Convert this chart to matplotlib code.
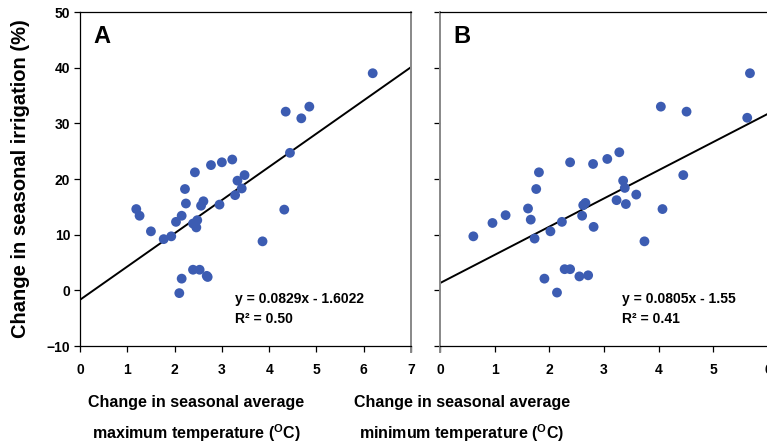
import matplotlib
matplotlib.use('Agg')
import matplotlib.pyplot as plt
import numpy as np

# Panel A: change in seasonal average maximum temperature vs irrigation change
tmax = [1.19, 1.26, 1.50, 1.77, 1.93, 2.03, 2.15, 2.22, 2.24, 2.43, 2.39, 2.48,
        2.46, 2.56, 2.61, 2.77, 3.00, 2.95, 3.22, 3.28, 3.33, 3.42, 3.48, 3.86,
        4.32, 4.35, 4.44, 4.68, 4.85, 6.19, 2.39, 2.53, 2.68, 2.70, 2.15, 2.10]
irr_a = [14.6, 13.4, 10.6, 9.2, 9.7, 12.3, 13.4, 18.2, 15.6, 21.2, 12.0, 12.6,
         11.3, 15.2, 16.0, 22.5, 23.0, 15.4, 23.5, 17.1, 19.7, 18.3, 20.7, 8.8,
         14.5, 32.1, 24.7, 30.9, 33.0, 39.0, 3.7, 3.7, 2.6, 2.4, 2.1, -0.5]

# Panel B: change in seasonal average minimum temperature
tmin = [0.61, 0.96, 1.20, 1.61, 1.66, 1.73, 1.76, 1.81, 1.91, 2.02, 2.14, 2.23,
        2.28, 2.38, 2.38, 2.55, 2.60, 2.62, 2.66, 2.71, 2.80, 2.81, 3.06, 3.23,
        3.28, 3.35, 3.38, 3.40, 3.59, 3.74, 4.04, 4.07, 4.45, 4.51, 5.62, 5.67]
irr_b = [9.7, 12.1, 13.5, 14.7, 12.7, 9.3, 18.2, 21.2, 2.1, 10.6, -0.4, 12.3,
         3.8, 3.8, 23.0, 2.5, 13.4, 15.3, 15.7, 2.7, 22.7, 11.4, 23.6, 16.2,
         24.8, 19.7, 18.4, 15.5, 17.2, 8.8, 33.0, 14.6, 20.7, 32.1, 31.0, 39.0]

# trend lines as drawn (intercept, slope)
fit_a = (-1.7, 5.97)
fit_b = (1.3, 5.07)
eq_a = ['y = 0.0829x - 1.6022', 'R² = 0.50']
eq_b = ['y = 0.0805x - 1.55', 'R² = 0.41']

W, H = 767, 447
fig = plt.figure(figsize=(W / 100, H / 100), dpi=100)
plt.rcParams['mathtext.fontset'] = 'custom'
plt.rcParams['mathtext.rm'] = 'Liberation Sans:bold'
plt.rcParams['mathtext.bf'] = 'Liberation Sans:bold'

sans = ['Liberation Sans', 'DejaVu Sans']
dot = '#3c5cb2'


def px_axes(x0, x1, y0, y1):
    return fig.add_axes([x0 / W, 1 - y1 / H, (x1 - x0) / W, (y1 - y0) / H])


def style(ax, xmax, letter, fit, xs, ys, show_y):
    ax.scatter(xs, ys, s=50, color=dot, edgecolors='none', zorder=3)
    xx = np.array([0, xmax])
    ax.plot(xx, fit[0] + fit[1] * xx, color='black', lw=1.4, zorder=2)
    ax.set_xlim(0, xmax)
    ax.set_ylim(-10, 50)
    ax.set_xticks(range(0, xmax + 1))
    ax.set_yticks(range(-10, 51, 10))
    ax.tick_params(axis='both', direction='out', length=4, width=0.9)
    ax.tick_params(axis='x', pad=8)
    ax.tick_params(axis='y', pad=3)
    for lab in ax.get_xticklabels():
        lab.set_fontfamily(sans)
        lab.set_fontweight('bold')
        lab.set_fontsize(10)
    if show_y:
        for lab in ax.get_yticklabels():
            lab.set_fontfamily(sans)
            lab.set_fontweight('bold')
            lab.set_fontsize(10)
    else:
        ax.set_yticklabels([])
    ax.text(0.04, 0.96, letter, transform=ax.transAxes, ha='left', va='top',
            fontsize=17, fontweight='bold', family=sans)
    for sp in ax.spines.values():
        sp.set_linewidth(0.9)
        sp.set_clip_on(False)
    return ax


axA = px_axes(80, 411, 12, 346)
style(axA, 7, 'A', fit_a, tmax, irr_a, True)
axA.spines['right'].set_color('#888888')
axA.spines['right'].set_linewidth(1.4)
axA.spines['right'].set_bounds(-11, 50)

axB = px_axes(440, 768, 12, 346)
style(axB, 6, 'B', fit_b, tmin, irr_b, False)
axB.spines['left'].set_color('#888888')
axB.spines['left'].set_linewidth(1.4)
axB.spines['left'].set_bounds(-11, 50)
axB.spines['right'].set_visible(False)

for ax, eq, x0 in ((axA, eq_a, 0.468), (axB, eq_b, 0.555)):
    ax.text(x0, 0.128, eq[0], transform=ax.transAxes, fontsize=10,
            fontweight='bold', family=sans)
    ax.text(x0, 0.068, eq[1], transform=ax.transAxes, fontsize=10,
            fontweight='bold', family=sans)

fig.text(21 / W, 1 - 179 / H, 'Change in seasonal irrigation (%)', rotation=90,
         ha='center', va='center', fontsize=14.5, fontweight='bold', family=sans)

xlabels = [(196, 'Change in seasonal average', r'maximum temperature ($^{\rm O}$C)'),
           (462, 'Change in seasonal average', r'minimum temperature ($^{\rm O}$C)')]
for xc, l1, l2 in xlabels:
    fig.text(xc / W, 1 - 402 / H, l1, ha='center', va='center', fontsize=11.5,
             fontweight='bold', family=sans)
    fig.text(xc / W, 1 - 433 / H, l2, ha='center', va='center', fontsize=11.5,
             fontweight='bold', family=sans)

fig.savefig('out.png', dpi=100)
